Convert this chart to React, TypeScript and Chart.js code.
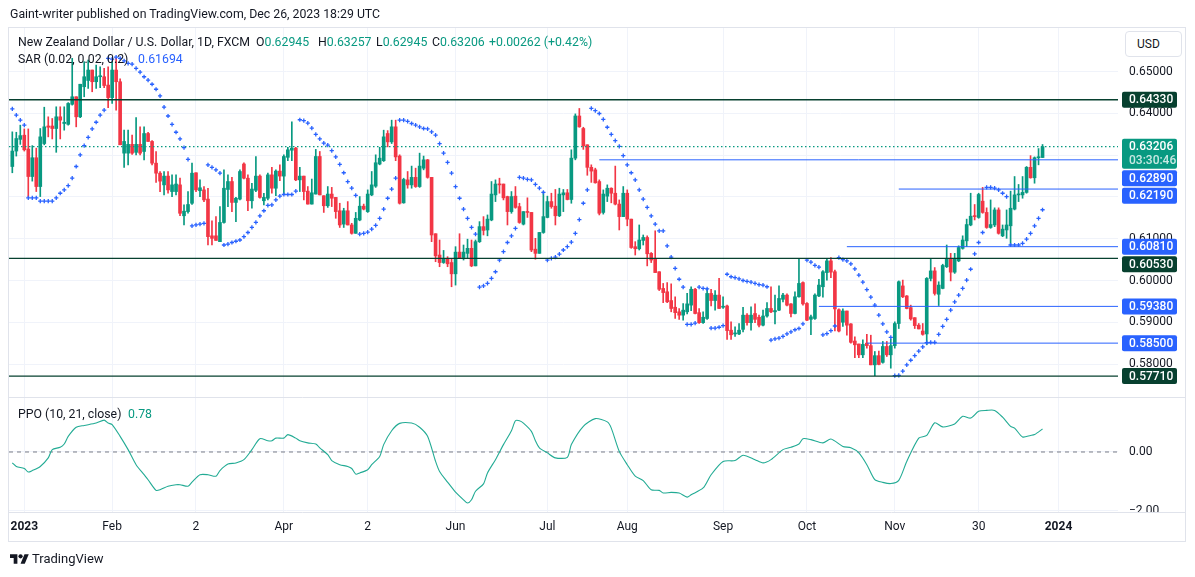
import React, { useEffect, useRef } from "react";
import { Chart, registerables } from "chart.js";

Chart.register(...registerables);

// ---------- data (daily NZD/USD candles, bar index 0 = late Dec 2022) ----------
const opens = [
  0.6273, 0.6310, 0.6338, 0.6348, 0.6315, 0.6249, 0.6294, 0.6225, 0.6328, 0.6370,
  0.6370, 0.6364, 0.6392, 0.6376, 0.6374, 0.6422, 0.6440, 0.6392, 0.6464, 0.6479,
  0.6504, 0.6476, 0.6488, 0.6488, 0.6468, 0.6438, 0.6504, 0.6476, 0.6305, 0.6305,
  0.6326, 0.6307, 0.6326, 0.6309, 0.6352, 0.6333, 0.6281, 0.6257, 0.6229, 0.6250,
  0.6213, 0.6213, 0.6229, 0.6155, 0.6165, 0.6185, 0.6258, 0.6215, 0.6217, 0.6195,
  0.6107, 0.6107, 0.6093, 0.6139, 0.6218, 0.6237, 0.6187, 0.6195, 0.6279, 0.6245,
  0.6191, 0.6216, 0.6250, 0.6191, 0.6197, 0.6253, 0.6221, 0.6262, 0.6250, 0.6295,
  0.6312, 0.6317, 0.6241, 0.6250, 0.6214, 0.6183, 0.6207, 0.6297, 0.6203, 0.6179,
  0.6207, 0.6199, 0.6167, 0.6135, 0.6167, 0.6133, 0.6113, 0.6145, 0.6178, 0.6165,
  0.6205, 0.6226, 0.6279, 0.6287, 0.6352, 0.6332, 0.6368, 0.6298, 0.6186, 0.6241,
  0.6229, 0.6247, 0.6225, 0.6269, 0.6289, 0.6247, 0.6112, 0.6061, 0.6043, 0.6053,
  0.6043, 0.6016, 0.6068, 0.6055, 0.6065, 0.6077, 0.6035, 0.6093, 0.6129, 0.6121,
  0.6145, 0.6205, 0.6231, 0.6231, 0.6201, 0.6165, 0.6202, 0.6177, 0.6135, 0.6165,
  0.6163, 0.6075, 0.6065, 0.6115, 0.6151, 0.6189, 0.6178, 0.6155, 0.6205, 0.6210,
  0.6194, 0.6293, 0.6394, 0.6364, 0.6325, 0.6271, 0.6265, 0.6237, 0.6163, 0.6202,
  0.6221, 0.6209, 0.6183, 0.6153, 0.6209, 0.6147, 0.6081, 0.6076, 0.6096, 0.6103,
  0.6065, 0.6051, 0.6021, 0.5981, 0.5973, 0.5952, 0.5936, 0.5925, 0.5917, 0.5925,
  0.5941, 0.5979, 0.5923, 0.5899, 0.5909, 0.5969, 0.5952, 0.5965, 0.5936, 0.5939,
  0.5881, 0.5872, 0.5872, 0.5883, 0.5917, 0.5899, 0.5921, 0.5912, 0.5893, 0.5915,
  0.5933, 0.5925, 0.5929, 0.5955, 0.5965, 0.5944, 0.5921, 0.5961, 0.5995, 0.5945,
  0.5907, 0.5909, 0.5963, 0.5985, 0.6019, 0.6047, 0.6021, 0.5930, 0.5900, 0.5927,
  0.5896, 0.5855, 0.5848, 0.5822, 0.5850, 0.5844, 0.5798, 0.5820, 0.5804, 0.5842,
  0.5822, 0.5844, 0.5897, 0.5987, 0.5963, 0.5935, 0.5911, 0.5893, 0.5879, 0.5872,
  0.6005, 0.6023, 0.5967, 0.5981, 0.6033, 0.6051, 0.6020, 0.6047, 0.6077, 0.6095,
  0.6133, 0.6154, 0.6151, 0.6190, 0.6163, 0.6127, 0.6133, 0.6169, 0.6107, 0.6121,
  0.6131, 0.6171, 0.6205, 0.6205, 0.6211, 0.6271, 0.6246, 0.6294, 0.62945,
];
const highs = [
  0.6356, 0.6355, 0.6372, 0.6363, 0.6363, 0.6323, 0.6317, 0.6364, 0.6415, 0.6392,
  0.6388, 0.6416, 0.6416, 0.6416, 0.6426, 0.6532, 0.6440, 0.6470, 0.6524, 0.6528,
  0.6504, 0.6516, 0.6512, 0.6508, 0.6512, 0.6524, 0.6532, 0.6483, 0.6360, 0.6360,
  0.6348, 0.6390, 0.6368, 0.6368, 0.6355, 0.6335, 0.6309, 0.6261, 0.6261, 0.6261,
  0.6253, 0.6253, 0.6245, 0.6181, 0.6213, 0.6281, 0.6258, 0.6241, 0.6225, 0.6221,
  0.6143, 0.6153, 0.6177, 0.6265, 0.6253, 0.6247, 0.6199, 0.6265, 0.6282, 0.6253,
  0.6233, 0.6297, 0.6253, 0.6209, 0.6257, 0.6271, 0.6265, 0.6277, 0.6301, 0.6319,
  0.6380, 0.6319, 0.6271, 0.6250, 0.6225, 0.6243, 0.6314, 0.6309, 0.6203, 0.6225,
  0.6223, 0.6199, 0.6185, 0.6173, 0.6189, 0.6137, 0.6163, 0.6201, 0.6183, 0.6217,
  0.6261, 0.6301, 0.6319, 0.6360, 0.6359, 0.6384, 0.6384, 0.6301, 0.6245, 0.6261,
  0.6274, 0.6269, 0.6305, 0.6298, 0.6290, 0.6247, 0.6112, 0.6097, 0.6072, 0.6057,
  0.6053, 0.6081, 0.6112, 0.6085, 0.6099, 0.6097, 0.6097, 0.6141, 0.6153, 0.6157,
  0.6237, 0.6241, 0.6245, 0.6231, 0.6202, 0.6213, 0.6225, 0.6185, 0.6165, 0.6198,
  0.6163, 0.6101, 0.6115, 0.6213, 0.6202, 0.6209, 0.6218, 0.6221, 0.6218, 0.6218,
  0.6313, 0.6399, 0.6412, 0.6367, 0.6325, 0.6277, 0.6269, 0.6241, 0.6217, 0.6229,
  0.6222, 0.6274, 0.6193, 0.6225, 0.6217, 0.6147, 0.6093, 0.6133, 0.6109, 0.6107,
  0.6067, 0.6119, 0.6021, 0.5993, 0.5995, 0.5992, 0.5961, 0.5933, 0.5945, 0.5969,
  0.5985, 0.5981, 0.5933, 0.5925, 0.5981, 0.5979, 0.5976, 0.6005, 0.5961, 0.5941,
  0.5901, 0.5889, 0.5897, 0.5936, 0.5921, 0.5937, 0.5944, 0.5917, 0.5929, 0.5947,
  0.5985, 0.5965, 0.5987, 0.5969, 0.5968, 0.5945, 0.5973, 0.6051, 0.5997, 0.5947,
  0.5917, 0.5968, 0.6003, 0.6024, 0.6051, 0.6055, 0.6025, 0.5932, 0.5932, 0.5927,
  0.5897, 0.5865, 0.5848, 0.5858, 0.5871, 0.5869, 0.5830, 0.5831, 0.5854, 0.5854,
  0.5860, 0.5901, 0.5999, 0.6001, 0.5964, 0.5941, 0.5911, 0.5897, 0.5897, 0.6007,
  0.6053, 0.6031, 0.5997, 0.6039, 0.6085, 0.6065, 0.6065, 0.6083, 0.6107, 0.6147,
  0.6209, 0.6182, 0.6209, 0.6223, 0.6174, 0.6193, 0.6174, 0.6174, 0.6133, 0.6169,
  0.6214, 0.6249, 0.6230, 0.6249, 0.6273, 0.6299, 0.6296, 0.6316, 0.63257,
];
const lows = [
  0.6258, 0.6298, 0.6326, 0.6310, 0.6201, 0.6238, 0.6213, 0.6201, 0.6325, 0.6344,
  0.6339, 0.6307, 0.6339, 0.6360, 0.6372, 0.6420, 0.6368, 0.6390, 0.6440, 0.6460,
  0.6452, 0.6460, 0.6462, 0.6462, 0.6414, 0.6424, 0.6408, 0.6325, 0.6271, 0.6277,
  0.6302, 0.6301, 0.6301, 0.6289, 0.6333, 0.6277, 0.6235, 0.6213, 0.6205, 0.6209,
  0.6201, 0.6205, 0.6155, 0.6133, 0.6161, 0.6182, 0.6213, 0.6201, 0.6189, 0.6085,
  0.6085, 0.6096, 0.6093, 0.6137, 0.6177, 0.6165, 0.6141, 0.6193, 0.6243, 0.6167,
  0.6173, 0.6213, 0.6197, 0.6181, 0.6193, 0.6209, 0.6203, 0.6239, 0.6207, 0.6287,
  0.6287, 0.6239, 0.6213, 0.6193, 0.6183, 0.6183, 0.6207, 0.6205, 0.6163, 0.6175,
  0.6177, 0.6149, 0.6127, 0.6127, 0.6133, 0.6111, 0.6113, 0.6143, 0.6169, 0.6163,
  0.6203, 0.6223, 0.6277, 0.6285, 0.6320, 0.6328, 0.6287, 0.6183, 0.6185, 0.6221,
  0.6221, 0.6223, 0.6223, 0.6265, 0.6245, 0.6093, 0.6045, 0.6033, 0.6041, 0.6033,
  0.5985, 0.5989, 0.6053, 0.6049, 0.6053, 0.6033, 0.6035, 0.6091, 0.6109, 0.6107,
  0.6143, 0.6189, 0.6209, 0.6193, 0.6133, 0.6161, 0.6173, 0.6137, 0.6133, 0.6151,
  0.6069, 0.6051, 0.6065, 0.6113, 0.6150, 0.6173, 0.6133, 0.6153, 0.6165, 0.6193,
  0.6185, 0.6289, 0.6367, 0.6314, 0.6252, 0.6235, 0.6233, 0.6157, 0.6159, 0.6189,
  0.6186, 0.6181, 0.6121, 0.6153, 0.6131, 0.6077, 0.6061, 0.6073, 0.6085, 0.6035,
  0.6043, 0.6019, 0.5976, 0.5947, 0.5947, 0.5925, 0.5909, 0.5907, 0.5905, 0.5920,
  0.5928, 0.5920, 0.5897, 0.5897, 0.5907, 0.5939, 0.5929, 0.5933, 0.5933, 0.5859,
  0.5859, 0.5866, 0.5870, 0.5877, 0.5893, 0.5881, 0.5899, 0.5889, 0.5891, 0.5912,
  0.5923, 0.5896, 0.5928, 0.5949, 0.5939, 0.5913, 0.5920, 0.5960, 0.5941, 0.5904,
  0.5870, 0.5907, 0.5961, 0.5960, 0.6001, 0.6007, 0.5879, 0.5877, 0.5890, 0.5869,
  0.5850, 0.5815, 0.5815, 0.5815, 0.5838, 0.5798, 0.5772, 0.5798, 0.5802, 0.5818,
  0.5790, 0.5838, 0.5885, 0.5959, 0.5932, 0.5905, 0.5885, 0.5884, 0.5869, 0.5846,
  0.5999, 0.5965, 0.5940, 0.5980, 0.6031, 0.5999, 0.6017, 0.6045, 0.6075, 0.6081,
  0.6131, 0.6145, 0.6149, 0.6161, 0.6125, 0.6125, 0.6129, 0.6111, 0.6105, 0.6101,
  0.6085, 0.6169, 0.6189, 0.6197, 0.6209, 0.6245, 0.6233, 0.6277, 0.62945,
];
const closes = [
  0.6310, 0.6340, 0.6347, 0.6313, 0.6249, 0.6294, 0.6225, 0.6344, 0.6368, 0.6367,
  0.6364, 0.6392, 0.6384, 0.6379, 0.6424, 0.6440, 0.6392, 0.6470, 0.6488, 0.6504,
  0.6476, 0.6488, 0.6489, 0.6467, 0.6438, 0.6504, 0.6476, 0.6325, 0.6333, 0.6326,
  0.6305, 0.6326, 0.6305, 0.6352, 0.6333, 0.6281, 0.6257, 0.6238, 0.6250, 0.6217,
  0.6229, 0.6231, 0.6161, 0.6166, 0.6182, 0.6257, 0.6217, 0.6222, 0.6193, 0.6105,
  0.6101, 0.6096, 0.6139, 0.6221, 0.6237, 0.6187, 0.6197, 0.6261, 0.6245, 0.6191,
  0.6219, 0.6250, 0.6199, 0.6199, 0.6253, 0.6221, 0.6262, 0.6250, 0.6297, 0.6313,
  0.6317, 0.6241, 0.6250, 0.6213, 0.6183, 0.6210, 0.6297, 0.6205, 0.6179, 0.6207,
  0.6197, 0.6165, 0.6133, 0.6167, 0.6133, 0.6113, 0.6149, 0.6178, 0.6171, 0.6207,
  0.6229, 0.6282, 0.6293, 0.6344, 0.6332, 0.6368, 0.6296, 0.6185, 0.6242, 0.6229,
  0.6247, 0.6225, 0.6274, 0.6289, 0.6247, 0.6109, 0.6059, 0.6043, 0.6053, 0.6040,
  0.6016, 0.6068, 0.6053, 0.6068, 0.6077, 0.6035, 0.6093, 0.6129, 0.6120, 0.6147,
  0.6207, 0.6231, 0.6229, 0.6198, 0.6165, 0.6201, 0.6175, 0.6139, 0.6165, 0.6163,
  0.6073, 0.6065, 0.6115, 0.6153, 0.6189, 0.6177, 0.6155, 0.6207, 0.6210, 0.6194,
  0.6293, 0.6394, 0.6368, 0.6322, 0.6271, 0.6262, 0.6234, 0.6161, 0.6207, 0.6221,
  0.6209, 0.6183, 0.6153, 0.6209, 0.6147, 0.6079, 0.6076, 0.6097, 0.6103, 0.6064,
  0.6049, 0.6019, 0.5979, 0.5971, 0.5949, 0.5933, 0.5923, 0.5917, 0.5929, 0.5944,
  0.5979, 0.5921, 0.5899, 0.5912, 0.5969, 0.5952, 0.5965, 0.5933, 0.5937, 0.5880,
  0.5870, 0.5874, 0.5881, 0.5917, 0.5899, 0.5917, 0.5907, 0.5893, 0.5915, 0.5933,
  0.5925, 0.5928, 0.5957, 0.5965, 0.5941, 0.5921, 0.5961, 0.5993, 0.5944, 0.5905,
  0.5913, 0.5965, 0.5989, 0.6021, 0.6047, 0.6020, 0.5932, 0.5879, 0.5927, 0.5893,
  0.5852, 0.5846, 0.5822, 0.5847, 0.5844, 0.5798, 0.5820, 0.5799, 0.5842, 0.5822,
  0.5844, 0.5897, 0.5997, 0.5961, 0.5933, 0.5908, 0.5892, 0.5884, 0.5871, 0.6005,
  0.6023, 0.5969, 0.5989, 0.6036, 0.6051, 0.6020, 0.6051, 0.6079, 0.6097, 0.6134,
  0.6154, 0.6153, 0.6206, 0.6163, 0.6127, 0.6134, 0.6169, 0.6113, 0.6123, 0.6133,
  0.6173, 0.6205, 0.6206, 0.6211, 0.6271, 0.6246, 0.6294, 0.6296, 0.63206,
];
const sarValues = [
  0.6411, 0.6396, 0.6384, 0.6372, 0.6198, 0.6198, 0.6198, 0.6190, 0.6190, 0.6190,
  0.6190, 0.6198, 0.6209, 0.6217, 0.6227, 0.6245, 0.6273, 0.6301, 0.6323, 0.6343,
  0.6363, 0.6379, 0.6396, 0.6408, 0.6532, 0.6530, 0.6535, 0.6532, 0.6526, 0.6520,
  0.6518, 0.6508, 0.6499, 0.6488, 0.6480, 0.6470, 0.6458, 0.6442, 0.6415, 0.6394,
  0.6374, 0.6355, 0.6339, 0.6318, 0.6290, 0.6131, 0.6133, 0.6135, 0.6137, 0.6277,
  0.6271, 0.6265, 0.6257, 0.6085, 0.6087, 0.6091, 0.6094, 0.6097, 0.6105, 0.6115,
  0.6127, 0.6139, 0.6155, 0.6167, 0.6180, 0.6181, 0.6193, 0.6202, 0.6206, 0.6206,
  0.6206, 0.6214, 0.6385, 0.6383, 0.6377, 0.6365, 0.6350, 0.6339, 0.6329, 0.6324,
  0.6311, 0.6296, 0.6278, 0.6258, 0.6237, 0.6221, 0.6204, 0.6111, 0.6113, 0.6116,
  0.6123, 0.6132, 0.6149, 0.6171, 0.6197, 0.6219, 0.6245, 0.6384, 0.6384, 0.6381,
  0.6376, 0.6372, 0.6368, 0.6364, 0.6363, 0.6356, 0.6348, 0.6328, 0.6305, 0.6283,
  0.6257, 0.6225, 0.6197, 0.6171, 0.6149, 0.6127, 0.6111, 0.5984, 0.5987, 0.5993,
  0.6005, 0.6021, 0.6049, 0.6069, 0.6091, 0.6107, 0.6125, 0.6247, 0.6245, 0.6242,
  0.6241, 0.6230, 0.6221, 0.6211, 0.6049, 0.6053, 0.6056, 0.6063, 0.6073, 0.6081,
  0.6092, 0.6113, 0.6146, 0.6185, 0.6217, 0.6412, 0.6407, 0.6400, 0.6386, 0.6367,
  0.6350, 0.6335, 0.6321, 0.6299, 0.6277, 0.6258, 0.6241, 0.6217, 0.6195, 0.6175,
  0.6155, 0.6135, 0.6119, 0.6119, 0.6083, 0.6056, 0.6029, 0.6003, 0.5984, 0.5895,
  0.5895, 0.5898, 0.5984, 0.5981, 0.5980, 0.5886, 0.5886, 0.5888, 0.5892, 0.6015,
  0.6009, 0.6007, 0.6004, 0.6000, 0.5998, 0.5996, 0.5993, 0.5990, 0.5989, 0.5985,
  0.5857, 0.5860, 0.5862, 0.5866, 0.5872, 0.5877, 0.5882, 0.5885, 0.5896, 0.6049,
  0.6044, 0.6036, 0.6032, 0.5870, 0.5873, 0.5880, 0.5891, 0.6055, 0.6050, 0.6047,
  0.6040, 0.6028, 0.6013, 0.5996, 0.5978, 0.5960, 0.5941, 0.5917, 0.5896, 0.5877,
  0.5864, 0.5772, 0.5773, 0.5783, 0.5798, 0.5809, 0.5820, 0.5831, 0.5841, 0.5851,
  0.5852, 0.5852, 0.5871, 0.5890, 0.5907, 0.5929, 0.5949, 0.5965, 0.5981, 0.6001,
  0.6027, 0.6064, 0.6091, 0.6115, 0.6223, 0.6223, 0.6221, 0.6217, 0.6209, 0.6201,
  0.6085, 0.6085, 0.6085, 0.6089, 0.6099, 0.6113, 0.6131, 0.6149, 0.61694,
];

const ppoBars = [
  0, 1, 3, 4, 5, 7, 9, 10, 12, 13, 14, 16, 18, 21, 23, 24, 25, 27, 29, 31,
  33, 34, 36, 37, 39, 41, 42, 44, 45, 47, 49, 51, 52, 54, 56, 58, 60, 62, 64, 65,
  66, 68, 69, 71, 72, 74, 76, 77, 79, 80, 82, 84, 85, 86, 87, 89, 90, 92, 93, 95,
  97, 100, 102, 104, 106, 107, 109, 111, 113, 114, 115, 116, 118, 119, 121, 123, 125, 126, 127, 128,
  130, 131, 132, 134, 136, 139, 140, 143, 146, 149, 150, 152, 154, 156, 158, 160, 162, 163, 165, 167,
  169, 170, 173, 175, 178, 181, 183, 186, 188, 190, 193, 195, 197, 198, 200, 203, 205, 208, 210, 212,
  214, 216, 218, 220, 222, 224, 227, 229, 231, 233, 236, 238, 240, 242, 244, 246, 248, 250, 251, 253,
  255, 256, 258,
];
const ppoValues = [
  -0.37, -0.49, -0.56, -0.68, -0.63, -0.49, -0.2, 0.08, 0.16, 0.27, 0.53, 0.84, 0.9, 0.98, 1.08, 0.98, 0.93, 0.53, 0.08, -0.43,
  -0.77, -0.94, -1.3, -1.28, -1.16, -1.11, -1.11, -1.16, -1.02, -0.77, -0.77, -0.82, -0.63, -0.41, -0.37, -0.26, 0.08, 0.45, 0.38, 0.38,
  0.47, 0.47, 0.59, 0.47, 0.38, 0.31, 0.27, 0.14, -0.09, -0.29, -0.43, -0.49, -0.56, -0.75, -0.71, -0.6, -0.43, -0.15, 0.25, 0.72,
  0.97, 0.98, 0.84, 0.53, -0.32, -0.66, -1.02, -1.36, -1.62, -1.73, -1.62, -1.33, -1.08, -0.71, -0.26, 0.25, 0.72, 1.06, 1.06, 0.98,
  0.7, 0.38, 0.14, -0.03, -0.2, -0.18, 0.25, 0.87, 1.13, 1.02, 0.81, 0.02, -0.43, -0.82, -0.97, -1.28, -1.3, -1.39, -1.37, -1.39,
  -1.53, -1.45, -1.22, -0.77, -0.32, -0.29, -0.11, -0.26, -0.37, -0.26, 0.08, 0.16, 0.27, 0.45, 0.42, 0.31, 0.44, 0.19, 0.14, -0.03,
  -0.43, -0.94, -1.03, -1.07, -0.96, -0.32, 0.47, 0.56, 0.99, 0.85, 0.95, 1.21, 1.15, 1.38, 1.41, 1.41, 1.18, 0.87, 0.81, 0.51,
  0.56, 0.59, 0.78,
];

// time axis
const tickBars = [3, 25, 46, 68, 89, 111, 134, 154, 178, 199, 221, 242, 262];
const tickLabels = ["2023", "Feb", "2", "Apr", "2", "Jun", "Jul", "Aug", "Sep", "Oct", "Nov", "30", "2024"];

// price axis ticks
const priceTicks = [0.58, 0.59, 0.6, 0.61, 0.62, 0.63, 0.64, 0.65];
const ppoTicks = [0, -2];

// horizontal levels (start bar: null = from the left edge)
const levelValues = [0.6433, 0.6289, 0.6219, 0.6081, 0.6053, 0.5938, 0.585, 0.5771];
const levelStarts = [null, 147, 222, 209, null, 202, 214, null];
const levelTones = ["dark", "blue", "blue", "blue", "dark", "blue", "blue", "dark"];

const lastPrice = 0.63206;
const countdown = "03:30:46";

// ---------- style ----------
const X_MIN = -0.83;
const X_MAX = 276.9;
const Y_MIN = 0.5721;
const Y_MAX = 0.66047;
const P_MIN = -2.034;
const P_MAX = 1.864;

const UP = "#089981";
const DOWN = "#f23645";
const BLUE = "#2962ff";
const DARK = "#07402f";
const TEXT = "#131722";
const GRID = "#f0f3fa";
const BORDER = "#e0e3eb";
const PPO_COLOR = "#22ab94";
const FONT = "Roboto, 'Noto Sans', 'DejaVu Sans', sans-serif";

const labelPlugin = {
  id: "priceLabels",
  afterDraw(chart: any) {
    const { ctx, chartArea: area, scales } = chart;
    const ys = scales.y;
    ctx.save();
    // hide the part of the PPO axis text that falls below the pane
    ctx.fillStyle = "#ffffff";
    ctx.fillRect(area.right + 1, area.bottom + 1, chart.width - area.right, chart.height - area.bottom);
    // pane separators and frame
    ctx.strokeStyle = BORDER;
    ctx.lineWidth = 1;
    ctx.beginPath();
    const sep = Math.round(ys.bottom) + 0.5;
    ctx.moveTo(8, sep);
    ctx.lineTo(1186, sep);
    const bot = Math.round(area.bottom) + 0.5;
    ctx.moveTo(8, bot);
    ctx.lineTo(1186, bot);
    ctx.stroke();
    ctx.strokeRect(8.5, 27.5, 1177, 514);

    // price labels on the right axis
    const items = [
      { v: lastPrice, bg: UP, lines: [lastPrice.toFixed(5), countdown] },
      ...levelValues.map((v, k) => ({
        v,
        bg: levelTones[k] === "dark" ? DARK : BLUE,
        lines: [v.toFixed(5)],
      })),
    ]
      .map((it) => ({ ...it, py: ys.getPixelForValue(it.v) }))
      .sort((a, b) => a.py - b.py);

    const bx = area.right + 4;
    const bw = 55;
    let prevBottom = -Infinity;
    ctx.textBaseline = "middle";
    ctx.textAlign = "left";
    for (const it of items) {
      const h = it.lines.length === 2 ? 30 : 16;
      let top = it.py - 8;
      if (top < prevBottom + 1.5) top = prevBottom + 1.5;
      ctx.fillStyle = it.bg;
      ctx.beginPath();
      if ((ctx as any).roundRect) (ctx as any).roundRect(bx, top, bw, h, 2);
      else ctx.rect(bx, top, bw, h);
      ctx.fill();
      ctx.font = `500 12px ${FONT}`;
      ctx.fillStyle = "#ffffff";
      ctx.fillText(it.lines[0], bx + 7, top + 8.5);
      if (it.lines.length === 2) {
        ctx.fillStyle = "rgba(255,255,255,0.78)";
        ctx.fillText(it.lines[1], bx + 7, top + 22.5);
      }
      prevBottom = top + h;
    }
    ctx.restore();
  },
};

export default function App() {
  const canvasRef = useRef<HTMLCanvasElement | null>(null);

  useEffect(() => {
    const canvas = canvasRef.current;
    if (!canvas) return;
    const bars = closes.map((_, i) => i);
    const colors = bars.map((i) => (closes[i] >= opens[i] ? UP : DOWN));

    const levelSets = levelValues.map((v, k) => ({
      type: "line",
      data: [
        { x: levelStarts[k] ?? X_MIN, y: v },
        { x: X_MAX, y: v },
      ],
      borderColor: levelTones[k] === "dark" ? DARK : BLUE,
      borderWidth: levelTones[k] === "dark" ? 1.4 : 1,
      pointRadius: 0,
      yAxisID: "y",
      order: 0,
    }));

    const chart = new Chart(canvas, {
      type: "bar",
      data: {
        datasets: [
          ...(levelSets as any[]),
          {
            type: "line",
            data: [
              { x: X_MIN, y: lastPrice },
              { x: X_MAX, y: lastPrice },
            ],
            borderColor: UP,
            borderWidth: 1.3,
            borderDash: [1.5, 2.5],
            pointRadius: 0,
            yAxisID: "y",
            order: 0,
          },
          {
            type: "line",
            data: bars.map((i) => ({ x: i, y: sarValues[i] })),
            showLine: false,
            pointStyle: "cross",
            pointRadius: 2.1,
            pointBorderWidth: 1.3,
            pointBorderColor: BLUE,
            pointBackgroundColor: BLUE,
            yAxisID: "y",
            order: 1,
          },
          {
            type: "bar",
            data: bars.map((i) => ({ x: i, y: [opens[i], closes[i]] })),
            backgroundColor: colors,
            borderWidth: 0,
            barThickness: 3,
            minBarLength: 1,
            grouped: false,
            yAxisID: "y",
            order: 2,
          },
          {
            type: "bar",
            data: bars.map((i) => ({ x: i, y: [lows[i], highs[i]] })),
            backgroundColor: colors,
            borderWidth: 0,
            barThickness: 1,
            minBarLength: 1,
            grouped: false,
            yAxisID: "y",
            order: 3,
          },
          {
            type: "line",
            data: [
              { x: X_MIN, y: 0 },
              { x: X_MAX, y: 0 },
            ],
            borderColor: "#787b86",
            borderWidth: 1,
            borderDash: [4, 4],
            pointRadius: 0,
            yAxisID: "y2",
            order: 1,
          },
          {
            type: "line",
            data: ppoBars.map((b, k) => ({ x: b, y: ppoValues[k] })),
            borderColor: PPO_COLOR,
            borderWidth: 1.1,
            pointRadius: 0,
            tension: 0.25,
            yAxisID: "y2",
            order: 0,
          },
        ] as any,
      },
      options: {
        responsive: false,
        animation: false,
        events: [],
        layout: { padding: { left: 9, right: 8, top: 28, bottom: 35 } },
        plugins: { legend: { display: false }, tooltip: { enabled: false } },
        scales: {
          x: {
            type: "linear",
            min: X_MIN,
            max: X_MAX,
            offset: false,
            bounds: "data",
            afterBuildTicks: (s: any) => {
              s.ticks = tickBars.map((v) => ({ value: v }));
            },
            afterFit: (s: any) => {
              s.height = 30;
            },
            ticks: {
              autoSkip: false,
              maxRotation: 0,
              padding: 8,
              color: TEXT,
              callback: (_v: any, i: number) => tickLabels[i],
              font: (c: any) => ({
                family: FONT,
                size: 12,
                weight: /^\d{4}$/.test(tickLabels[c.index] || "") ? "bold" : "normal",
              }),
            },
            grid: { color: GRID, drawTicks: false, offset: false },
            border: { display: false },
          },
          y: {
            type: "linear",
            position: "right",
            stack: "panes",
            stackWeight: 369,
            min: Y_MIN,
            max: Y_MAX,
            bounds: "data",
            afterBuildTicks: (s: any) => {
              s.ticks = priceTicks.map((v) => ({ value: v }));
            },
            afterFit: (s: any) => {
              s.width = 69;
            },
            ticks: {
              padding: 11,
              color: TEXT,
              font: { family: FONT, size: 12 },
              callback: (v: any) => Number(v).toFixed(5),
            },
            grid: { color: GRID, drawTicks: false },
            border: { display: false },
          },
          y2: {
            type: "linear",
            position: "right",
            stack: "panes",
            stackWeight: 115,
            min: P_MIN,
            max: P_MAX,
            bounds: "data",
            afterBuildTicks: (s: any) => {
              s.ticks = ppoTicks.map((v) => ({ value: v }));
            },
            afterFit: (s: any) => {
              s.width = 69;
            },
            ticks: {
              padding: 11,
              color: TEXT,
              font: { family: FONT, size: 12 },
              callback: (v: any) => {
                const n = Number(v);
                return n < 0 ? "\u2212" + Math.abs(n).toFixed(2) : n.toFixed(2);
              },
            },
            grid: { color: GRID, drawTicks: false },
            border: { display: false },
          },
        },
      } as any,
      plugins: [labelPlugin as any],
    });
    return () => chart.destroy();
  }, []);

  const abs = (left: number, top: number): React.CSSProperties => ({
    position: "absolute",
    left,
    top,
    lineHeight: "16px",
    fontSize: 12.3,
    whiteSpace: "nowrap",
    color: TEXT,
  });

  return (
    <div
      style={{
        position: "fixed",
        left: 0,
        top: 0,
        width: 1195,
        height: 577,
        background: "#ffffff",
        overflow: "hidden",
        fontFamily: FONT,
      }}
    >
      <canvas
        ref={canvasRef}
        width={1195}
        height={577}
        style={{ position: "absolute", left: 0, top: 0, width: 1195, height: 577 }}
      />
      <div style={abs(10, 6)}>Gaint-writer published on TradingView.com, Dec 26, 2023 18:29 UTC</div>

      <div style={abs(18, 34)}>New Zealand Dollar / U.S. Dollar, 1D, FXCM</div>
      <div style={abs(256, 34)}>
        O<span style={{ color: UP }}>0.62945</span>
      </div>
      <div style={abs(318, 34)}>
        H<span style={{ color: UP }}>0.63257</span>
      </div>
      <div style={abs(376, 34)}>
        L<span style={{ color: UP }}>0.62945</span>
      </div>
      <div style={abs(432, 34)}>
        C<span style={{ color: UP }}>0.63206</span>
      </div>
      <div style={{ ...abs(489, 34), color: UP }}>+0.00262 (+0.42%)</div>

      <div style={abs(18, 51)}>SAR (0.02, 0.02, 0.2)</div>
      <div style={{ ...abs(138, 51), color: BLUE }}>0.61694</div>

      <div style={abs(18, 406)}>PPO (10, 21, close)</div>
      <div style={{ ...abs(128, 406), color: UP }}>0.78</div>

      <div
        style={{
          position: "absolute",
          left: 1125,
          top: 31,
          width: 44,
          height: 24,
          border: `1px solid ${BORDER}`,
          borderRadius: 4,
          fontSize: 12,
          lineHeight: "24px",
          color: TEXT,
          paddingLeft: 11,
          boxSizing: "content-box",
          background: "#ffffff",
        }}
      >
        USD
      </div>

      <svg
        width="19"
        height="15"
        viewBox="0 0 36 28"
        style={{ position: "absolute", left: 10, top: 552 }}
      >
        <path d="M14 22H7V11H0V4h14v18z" fill={TEXT} />
        <circle cx="20" cy="8" r="4" fill={TEXT} />
        <path d="M28 22h-8l7.5-18h8L28 22z" fill={TEXT} />
      </svg>
      <div style={{ ...abs(32, 551), fontSize: 13 }}>TradingView</div>
    </div>
  );
}
